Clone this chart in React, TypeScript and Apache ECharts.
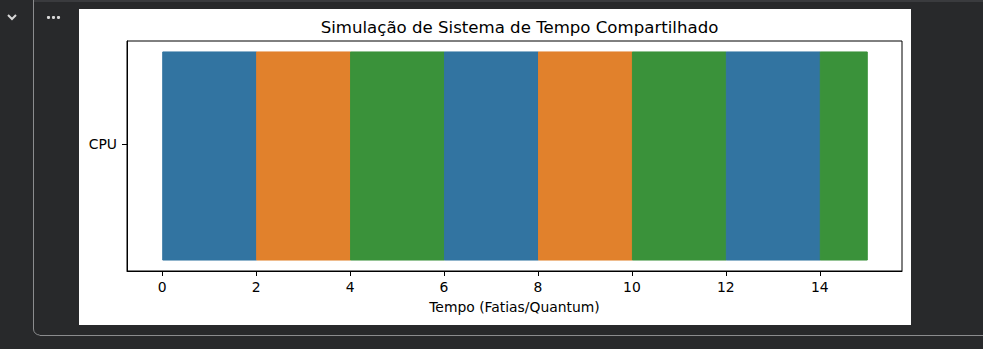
import React, { useEffect, useRef } from "react";
import * as echarts from "echarts";

const processes = ["P1", "P2", "P3", "P1", "P2", "P3", "P1", "P3"];
const starts = [0, 2, 4, 6, 8, 10, 12, 14];
const durations = [2, 2, 2, 2, 2, 2, 2, 1];
const processColors: Record<string, string> = {
  P1: "#3274a1",
  P2: "#e1812c",
  P3: "#3a923a",
};
const barY = 10;
const barHeight = 9;
const yTickValues = [15];
const yTickLabels = ["CPU"];
const xTicks = [0, 2, 4, 6, 8, 10, 12, 14];
const title = "Simulação de Sistema de Tempo Compartilhado";
const xLabel = "Tempo (Fatias/Quantum)";

export default function App() {
  const ref = useRef<HTMLDivElement>(null);
  useEffect(() => {
    document.body.style.margin = "0";
    const chart = echarts.init(ref.current!, null, { renderer: "svg" });
    const font = "'DejaVu Sans', sans-serif";
    const data = starts.map((s, i) => ({
      value: [s, durations[i], barY, barHeight],
      itemStyle: { color: processColors[processes[i]] },
    }));
    chart.setOption({
      animation: false,
      backgroundColor: "#28292b",
      title: {
        text: title,
        left: 514.5,
        top: 14,
        textAlign: "center",
        textStyle: { fontFamily: font, fontSize: 16.6, fontWeight: "normal", color: "#000" },
      },
      grid: {
        left: 127,
        top: 41,
        width: 775,
        height: 230,
        show: true,
        borderColor: "#000",
        borderWidth: 1,
        backgroundColor: "transparent",
        z: 3,
      },
      xAxis: {
        type: "value",
        min: -0.75,
        max: 15.75,
        name: xLabel,
        nameLocation: "middle",
        nameGap: 29,
        nameTextStyle: { fontFamily: font, fontSize: 13.9, color: "#000", verticalAlign: "top" },
        axisLine: { show: true, onZero: false, lineStyle: { color: "#000", width: 1 } },
        axisTick: { show: true, length: 5, customValues: xTicks, lineStyle: { color: "#000" } },
        axisLabel: { customValues: xTicks, margin: 9, fontFamily: font, fontSize: 13.9, color: "#000" },
        splitLine: { show: false },
      },
      yAxis: {
        type: "value",
        min: barY - 0.05 * barHeight,
        max: barY + 1.05 * barHeight,
        axisLine: { show: true, onZero: false, lineStyle: { color: "#000", width: 1 } },
        axisTick: { show: true, length: 5, customValues: yTickValues, lineStyle: { color: "#000" } },
        axisLabel: {
          customValues: yTickValues,
          margin: 10,
          fontFamily: font,
          fontSize: 13.9,
          color: "#000",
          formatter: (v: number) => {
            const i = yTickValues.indexOf(v);
            return i >= 0 ? yTickLabels[i] : "";
          },
        },
        splitLine: { show: false },
      },
      graphic: [
        { type: "rect", z: -10, shape: { x: 79, y: 9, width: 832, height: 316 }, style: { fill: "#ffffff" } },
        { type: "rect", z: -11, shape: { x: 34, y: 0, width: 949, height: 2 }, style: { fill: "#3a3b3e" } },
        { type: "line", z: -11, shape: { x1: 33.5, y1: 0, x2: 33.5, y2: 329 }, style: { stroke: "#8b8c8e", lineWidth: 1 } },
        { type: "arc", z: -11, shape: { cx: 39.5, cy: 329, r: 6, startAngle: Math.PI / 2, endAngle: Math.PI, clockwise: true }, style: { stroke: "#8b8c8e", lineWidth: 1, fill: "none" } },
        { type: "line", z: -11, shape: { x1: 39.5, y1: 335.5, x2: 983, y2: 335.5 }, style: { stroke: "#8b8c8e", lineWidth: 1 } },
        { type: "polyline", z: -11, shape: { points: [[8, 15], [12, 19], [16, 15]] }, style: { stroke: "#d8d8d8", lineWidth: 2, fill: "none" } },
        { type: "circle", z: -11, shape: { cx: 48.5, cy: 17.5, r: 1.6 }, style: { fill: "#d8d8d8" } },
        { type: "circle", z: -11, shape: { cx: 53.5, cy: 17.5, r: 1.6 }, style: { fill: "#d8d8d8" } },
        { type: "circle", z: -11, shape: { cx: 58.5, cy: 17.5, r: 1.6 }, style: { fill: "#d8d8d8" } },
      ],
      series: [
        {
          type: "custom",
          silent: true,
          encode: { x: [0, 1], y: [2, 3] },
          data,
          renderItem: (params: any, api: any) => {
            const s = api.value(0);
            const d = api.value(1);
            const y0 = api.value(2);
            const h = api.value(3);
            const p0 = api.coord([s, y0 + h]);
            const p1 = api.coord([s + d, y0]);
            const c = api.visual("color");
            return {
              type: "rect",
              shape: { x: p0[0] + 0.5, y: p0[1] + 0.5, width: p1[0] - p0[0], height: p1[1] - p0[1] - 1 },
              style: { fill: c, stroke: c, lineWidth: 1 },
            };
          },
        },
      ],
    });
    return () => chart.dispose();
  }, []);
  return <div ref={ref} style={{ width: 983, height: 349 }} />;
}
